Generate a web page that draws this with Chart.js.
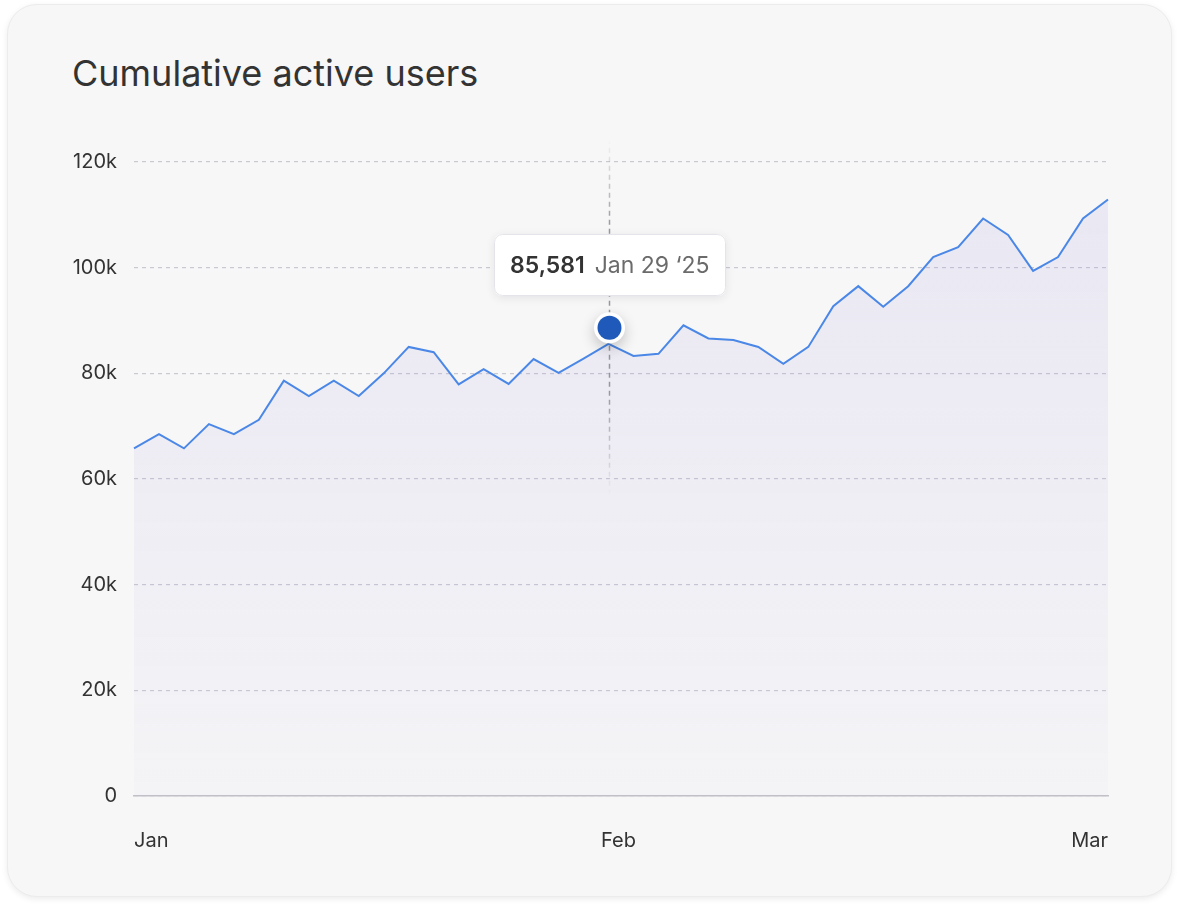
<!DOCTYPE html>
<html>
<head>
<meta charset="utf-8">
<script src="https://cdn.jsdelivr.net/npm/chart.js@4.4.1/dist/chart.umd.min.js"></script>
<style>
  html, body { margin: 0; padding: 0; background: #ffffff; }
  body { width: 1180px; height: 910px; position: relative; overflow: hidden; font-family: Inter, "Noto Sans", sans-serif; }
  .card {
    position: absolute; left: 7px; top: 4px; width: 1165px; height: 893px;
    background: #f7f7f7; border-radius: 30px;
    border: 1px solid #ececec;
    box-shadow: 0 2px 6px rgba(0,0,0,0.08);
    box-sizing: border-box;
  }
  .title {
    position: absolute; left: 72px; top: 51px;
    font-family: Inter, "Noto Sans", sans-serif; font-size: 36px; font-weight: 400;
    color: #333333; letter-spacing: 0px; white-space: nowrap; line-height: 44px;
  }
  canvas { position: absolute; left: 0; top: 0; }
</style>
</head>
<body>
<div class="card"></div>
<div class="title">Cumulative active users</div>
<canvas id="c" width="1180" height="910"></canvas>
<script>
// ---- data ----
const dateLabels = [
  'Jan 1','Jan 2','Jan 4','Jan 5','Jan 7','Jan 8','Jan 10','Jan 11','Jan 13','Jan 14',
  'Jan 16','Jan 17','Jan 19','Jan 20','Jan 22','Jan 23','Jan 25','Jan 26','Jan 28','Jan 29',
  'Jan 31','Feb 1','Feb 3','Feb 4','Feb 6','Feb 7','Feb 9','Feb 10','Feb 12','Feb 13',
  'Feb 15','Feb 16','Feb 18','Feb 19','Feb 21','Feb 22','Feb 24','Feb 25','Feb 27','Mar 1'
];
const activeUsers = [
  65800, 68500, 65800, 70400, 68500, 71200, 78600, 75700, 78600, 75700,
  80000, 85000, 84000, 77900, 80800, 78000, 82700, 80100, 82800, 85581,
  83300, 83700, 89100, 86600, 86300, 85000, 81800, 85000, 92700, 96500,
  92600, 96500, 102000, 103900, 109300, 106200, 99400, 102000, 109300, 112900
];
const yearSuffix = '\u201825';
const monthTickLabels = ['Jan', 'Feb', 'Mar'];
const monthTickIndex = [0, 19.4, 39];
const yTickValues = [0, 20000, 40000, 60000, 80000, 100000, 120000];
const highlightIndex = 19;

// ---- highlight plugin (crosshair, dot, tooltip box) ----
const highlightPlugin = {
  id: 'highlight',
  afterDatasetsDraw(chart) {
    const ctx = chart.ctx;
    const meta = chart.getDatasetMeta(0);
    const pt = meta.data[highlightIndex];
    if (!pt) return;
    const x = Math.round(pt.x) + 0.5, y = pt.y;

    // crosshair
    const top = y - 205, bottom = y + 152;
    const g = ctx.createLinearGradient(0, top, 0, bottom);
    g.addColorStop(0, 'rgba(140,140,150,0)');
    g.addColorStop(0.25, 'rgba(140,140,150,0.9)');
    g.addColorStop(0.7, 'rgba(140,140,150,0.9)');
    g.addColorStop(1, 'rgba(140,140,150,0)');
    ctx.save();
    ctx.strokeStyle = g;
    ctx.lineWidth = 1.5;
    ctx.setLineDash([5, 4]);
    ctx.beginPath();
    ctx.moveTo(x, top);
    ctx.lineTo(x, bottom);
    ctx.stroke();
    ctx.restore();

    // dot
    const dy = y - 16;
    ctx.save();
    ctx.shadowColor = 'rgba(0,0,0,0.22)';
    ctx.shadowBlur = 14;
    ctx.shadowOffsetY = 5;
    ctx.fillStyle = '#ffffff';
    ctx.beginPath();
    ctx.arc(x, dy, 15.5, 0, Math.PI * 2);
    ctx.fill();
    ctx.restore();
    ctx.save();
    ctx.fillStyle = '#1f59b9';
    ctx.beginPath();
    ctx.arc(x, dy, 12, 0, Math.PI * 2);
    ctx.fill();
    ctx.restore();

    // tooltip box
    const valueText = activeUsers[highlightIndex].toLocaleString('en-US');
    const dateText = dateLabels[highlightIndex] + ' ' + yearSuffix;
    const f1 = '600 23px Inter, "Noto Sans", sans-serif';
    const f2 = '400 23px Inter, "Noto Sans", sans-serif';
    ctx.save();
    ctx.font = f1;
    const w1 = ctx.measureText(valueText).width;
    ctx.font = f2;
    const w2 = ctx.measureText(dateText).width;
    const gap = 10, padX = 16;
    const bw = Math.round(w1 + gap + w2 + padX * 2);
    const bh = 62;
    const bx = Math.round(x - bw / 2), by = Math.round(y - 48 - bh);
    ctx.shadowColor = 'rgba(60,60,90,0.10)';
    ctx.shadowBlur = 8;
    ctx.shadowOffsetY = 2;
    ctx.fillStyle = '#ffffff';
    ctx.beginPath();
    ctx.roundRect(bx, by, bw, bh, 8);
    ctx.fill();
    ctx.shadowColor = 'transparent';
    ctx.strokeStyle = '#e4e4ea';
    ctx.lineWidth = 1;
    ctx.beginPath();
    ctx.roundRect(bx + 0.5, by + 0.5, bw - 1, bh - 1, 8);
    ctx.stroke();
    ctx.textBaseline = 'middle';
    ctx.textAlign = 'left';
    ctx.font = f1;
    ctx.fillStyle = '#333333';
    ctx.fillText(valueText, bx + padX, by + bh / 2 + 1);
    ctx.font = f2;
    ctx.fillStyle = '#6b6b6b';
    ctx.fillText(dateText, bx + padX + w1 + gap, by + bh / 2 + 1);
    ctx.restore();
  }
};

const tickFont = { family: 'Inter, "Noto Sans", sans-serif', size: 20 };

new Chart(document.getElementById('c'), {
  type: 'line',
  data: {
    labels: dateLabels,
    datasets: [{
      data: activeUsers,
      borderColor: '#4a87e6',
      borderWidth: 2,
      pointRadius: 0,
      pointHoverRadius: 0,
      tension: 0,
      fill: 'origin',
      backgroundColor(context) {
        const area = context.chart.chartArea;
        if (!area) return 'rgba(120,110,210,0.08)';
        const g = context.chart.ctx.createLinearGradient(0, area.top, 0, area.bottom);
        g.addColorStop(0, 'rgba(125,110,215,0.11)');
        g.addColorStop(1, 'rgba(125,110,215,0.025)');
        return g;
      }
    }]
  },
  options: {
    responsive: false,
    animation: false,
    events: [],
    layout: { padding: { left: 0, right: 72, top: 162, bottom: 34 } },
    plugins: { legend: { display: false }, tooltip: { enabled: false } },
    scales: {
      x: { type: 'category', display: false },
      x2: {
        type: 'linear', position: 'bottom',
        min: 0, max: dateLabels.length - 1,
        grid: { display: false, drawTicks: false },
        border: { display: true, color: '#c2c2c8', width: 1.5 },
        afterBuildTicks(scale) { scale.ticks = monthTickIndex.map(v => ({ value: v })); },
        afterFit(scale) { scale.height = 80; },
        ticks: {
          align: 'inner', maxRotation: 0, autoSkip: false,
          padding: 33, color: '#333333', font: tickFont,
          callback(value, index) { return monthTickLabels[index]; }
        }
      },
      y: {
        min: 0, max: 120000,
        afterBuildTicks(scale) { scale.ticks = yTickValues.map(v => ({ value: v })); },
        afterFit(scale) { scale.width = 134; },
        grid: { color: '#c9c9d2', lineWidth: 1.2, drawTicks: false },
        border: { display: false, dash: [4, 4] },
        ticks: {
          padding: 17, color: '#333333', font: tickFont,
          callback(v) { return v === 0 ? '0' : (v / 1000) + 'k'; }
        }
      }
    }
  },
  plugins: [highlightPlugin]
});
</script>
</body>
</html>
